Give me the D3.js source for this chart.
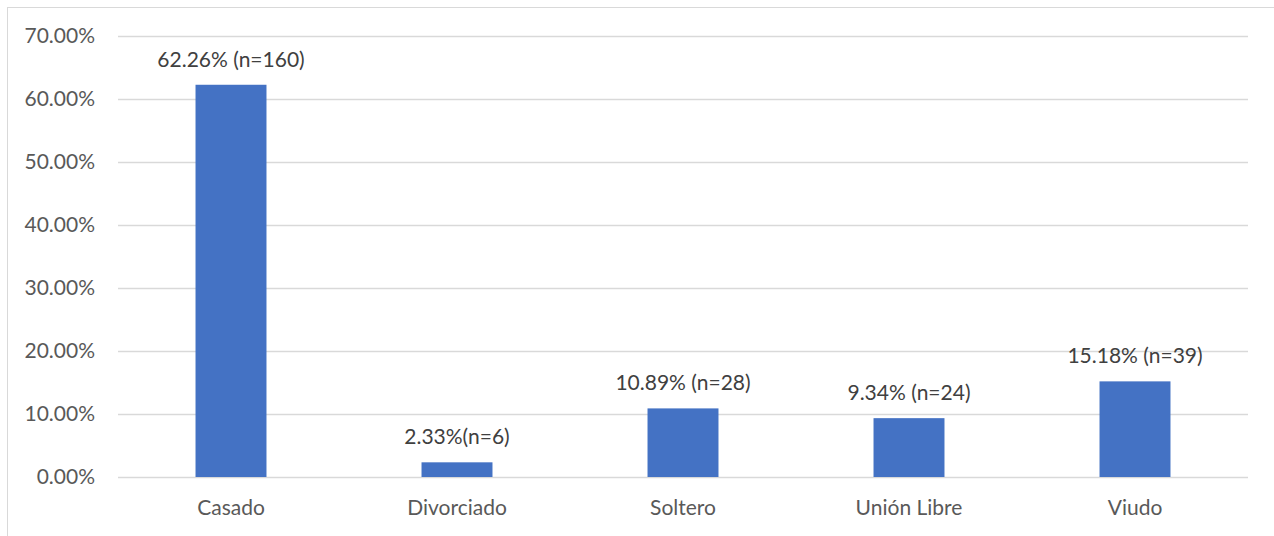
<!DOCTYPE html>
<html>
<head>
<meta charset="utf-8">
<script src="https://cdn.jsdelivr.net/npm/d3@7/dist/d3.min.js"></script>
<style>
  html, body { margin: 0; padding: 0; background: #fff; }
  svg { display: block; }
</style>
</head>
<body>
<svg id="chart" width="1274" height="536"></svg>
<script>
// Marital status distribution
const categories = ["Casado", "Divorciado", "Soltero", "Unión Libre", "Viudo"];
const percents = [62.26, 2.33, 10.89, 9.34, 15.18];
const labels = ["62.26% (n=160)", "2.33%(n=6)", "10.89% (n=28)", "9.34% (n=24)", "15.18% (n=39)"];
const yTicks = [0, 10, 20, 30, 40, 50, 60, 70];

const svg = d3.select("#chart");
const font = "Lato, 'Open Sans', sans-serif";
const fontSize = "21px";

// chart border
svg.append("rect")
  .attr("x", 7.5).attr("y", 7.5)
  .attr("width", 1280).attr("height", 540)
  .attr("fill", "none").attr("stroke", "#d9d9d9").attr("stroke-width", 1);

const plotLeft = 118, plotRight = 1248, plotTop = 36, plotBottom = 477;

const x = d3.scaleBand().domain(categories).range([plotLeft, plotRight]).paddingInner(0.686).paddingOuter(0.343);
const y = d3.scaleLinear().domain([0, 70]).range([plotBottom, plotTop]);

// gridlines
svg.append("g").selectAll("line").data(yTicks).join("line")
  .attr("x1", plotLeft).attr("x2", plotRight)
  .attr("y1", d => Math.round(y(d)) + 0.5).attr("y2", d => Math.round(y(d)) + 0.5)
  .attr("stroke", "#d9d9d9").attr("stroke-width", 1.3);

// y axis labels
const yAxis = d3.axisLeft(y).tickValues(yTicks).tickSize(0).tickPadding(0)
  .tickFormat(d => d.toFixed(2) + "%");
const ya = svg.append("g").attr("transform", `translate(95,0)`).call(yAxis);
ya.select(".domain").remove();
ya.selectAll("text").attr("fill", "#595959").style("font-family", font).style("font-size", fontSize);

// bars
svg.append("g").selectAll("rect").data(percents).join("rect")
  .attr("x", (d, i) => x(categories[i]))
  .attr("width", x.bandwidth())
  .attr("y", d => y(d))
  .attr("height", d => y(0) - y(d))
  .attr("fill", "#4472c4");

// data labels
svg.append("g").selectAll("text").data(percents).join("text")
  .attr("x", (d, i) => x(categories[i]) + x.bandwidth() / 2)
  .attr("y", d => y(d) - 18)
  .attr("text-anchor", "middle")
  .attr("fill", "#404040")
  .style("font-family", font).style("font-size", fontSize)
  .text((d, i) => labels[i]);

// x axis labels
const xAxis = d3.axisBottom(x).tickSize(0).tickPadding(0);
const xa = svg.append("g").attr("transform", `translate(0,${plotBottom + 23})`).call(xAxis);
xa.select(".domain").remove();
xa.selectAll("text").attr("fill", "#595959").style("font-family", font).style("font-size", fontSize);
</script>
</body>
</html>
